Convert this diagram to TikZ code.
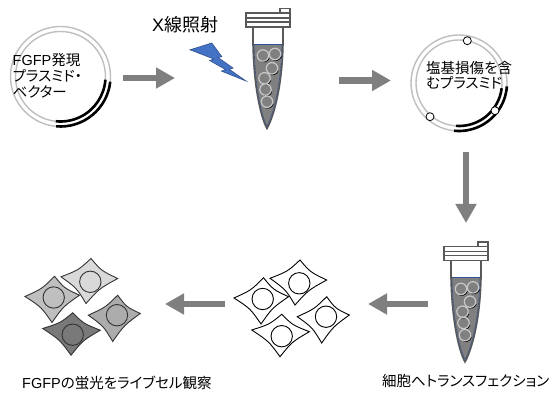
\documentclass[tikz,border=0pt]{standalone}
\usepackage{fontspec}
\setmainfont{Noto Sans CJK JP}[RawFeature={+palt}]
\newfontfamily\lat{Liberation Sans}
\usetikzlibrary{arrows.meta,calc}

\definecolor{arrowgray}{HTML}{7F7F7F}
\definecolor{ringgray}{HTML}{BFBFBF}
\definecolor{tubegray}{HTML}{595959}
\definecolor{liquid}{HTML}{808080}
\definecolor{liquidedge}{HTML}{2F5597}
\definecolor{boltfill}{HTML}{4472C4}
\definecolor{boltedge}{HTML}{2F528F}
\definecolor{beadring}{HTML}{C8C8C8}

\tikzset{
  flowarrow/.style={draw=arrowgray, line width=6.5pt, -{Triangle[length=19pt,width=20pt]}},
  ring/.style={draw=ringgray, line width=1.4pt},
  strand/.style={draw=black, line width=2.6pt},
  lesion/.style={draw=black, fill=white, line width=0.8pt},
  tubeline/.style={draw=tubegray, line width=1.6pt},
  cellline/.style={draw=black, line width=0.9pt},
  txt/.style={inner sep=0pt, font=\fontsize{14.5}{16}\selectfont},
}

% concave cell outline through the four tips (left, top, right, bottom)
\newcommand\cellquad[6]{%
  \path (#2) coordinate (qL) (#3) coordinate (qT) (#4) coordinate (qR) (#5) coordinate (qB);
  \coordinate (qC) at ($0.25*(qL)+0.25*(qT)+0.25*(qR)+0.25*(qB)$);
  \filldraw[cellline, draw=#6, fill=#1] (qL)
    .. controls ($0.4*(qL)+0.4*(qT)+0.2*(qC)$) .. (qT)
    .. controls ($0.4*(qT)+0.4*(qR)+0.2*(qC)$) .. (qR)
    .. controls ($0.4*(qR)+0.4*(qB)+0.2*(qC)$) .. (qB)
    .. controls ($0.4*(qB)+0.4*(qL)+0.2*(qC)$) .. (qL) -- cycle;
}

% four adherent cells, each with its nucleus
\newcommand\cellgroup[5]{%
  \cellquad{#1}{234,298}{263.5,277.7}{288.5,296.7}{261,324}{#5}
  \draw[cellline, draw=#5] (262.7,299) circle[radius=10.7];
  \cellquad{#2}{270,278.3}{300,260}{326.7,280}{295,305}{#5}
  \draw[cellline, draw=#5] (299.3,283.3) circle[radius=10.7];
  \cellquad{#4}{297.3,316.7}{326.7,296.7}{349.3,315}{321.7,343}{#5}
  \draw[cellline, draw=#5] (326,316.7) circle[radius=10.7];
  \cellquad{#3}{251.7,330}{281.7,314.3}{309.3,331.7}{280,356.7}{#5}
  \draw[cellline, draw=#5] (281.7,336.2) circle[radius=10.7];
}

% microcentrifuge tube with plasmid beads in solution
\newcommand\tubedraw{%
  \draw[tubeline, fill=white] (280,8.5) rectangle (290,13);
  \draw[tubeline, fill=white] (253,27) -- (253,44)
     .. controls (254,92) and (262,120) .. (267,128.5)
     .. controls (272,120) and (282,92) .. (283,44) -- (283,27);
  \fill[liquid]
     (254,44.5) -- (282,44.5)
     .. controls (281,92) and (271.5,118) .. (267,126.5)
     .. controls (262.5,118) and (255,92) .. (254,44.5) -- cycle;
  \draw[liquidedge!55!tubegray, line width=0.7pt]
     (282,44.5) .. controls (281,92) and (271.5,118) .. (267,126.5)
     .. controls (262.5,118) and (255,92) .. (254,44.5);
  \draw[liquidedge, line width=1.1pt] (254,44.5) -- (282,44.5);
  \draw[tubeline, fill=white] (246,13) rectangle (290,27);
  \draw[tubeline] (246,18) -- (290,18) (246,22) -- (290,22);
  \foreach \bx/\by in {263/55.5, 275/54, 272/68.3, 264.5/78.3, 265.5/89.5, 267/101.7}{
    \draw[draw=black, line width=1.3pt] (\bx+0.6,\by+0.6) ++(15:5.7) arc[start angle=15, end angle=110, radius=5.7];
    \draw[draw=beadring, line width=1.2pt] (\bx,\by) circle[radius=5.7];
  }
}

\begin{document}
\begin{tikzpicture}[x=1pt, y=-1pt]
\useasboundingbox[fill=white] (0,0) rectangle (549,398);

% --- expression plasmid ---
\coordinate (p1) at (60.5,76.5);
\draw[ring] (p1) circle[radius=50];
\draw[ring] (p1) circle[radius=45];
\draw[strand] (p1) ++(6:50) arc[start angle=6, end angle=95, radius=50];
\draw[strand] (p1) ++(4:45) arc[start angle=4, end angle=96, radius=45];
\node[txt, anchor=north west, align=left, font=\fontsize{14.5}{16}\selectfont] (p1txt) at (12.5,53)
  {{\lat FGFP}発現\\プラスミド・\\ベクター};

% --- irradiation ---
\node[txt, anchor=base west, font=\fontsize{18}{20}\selectfont] (xray) at (152,31.5) {{\lat X}線照射};
\filldraw[fill=boltfill, draw=boltedge, line width=0.6pt, line join=miter]
  (211.8,43) -- (221.9,56.7) -- (218,57.4) -- (233.1,68.1) -- (229.2,69.2)
  -- (246,81) -- (221.4,71.1) -- (225.6,69.6) -- (209.6,60.5) -- (213.8,59)
  -- (190,49.8) -- cycle;
\begin{scope}
  \tubedraw
\end{scope}

% --- damaged plasmid ---
\coordinate (p2) at (459,83);
\draw[ring] (p2) circle[radius=48];
\draw[ring] (p2) circle[radius=43];
\draw[strand] (p2) ++(4:48) arc[start angle=4, end angle=96, radius=48];
\draw[strand] (p2) ++(7:43) arc[start angle=7, end angle=94, radius=43];
\draw[lesion] (467.3,40.7) circle[radius=4];
\draw[lesion] (430,116.7) circle[radius=4];
\draw[lesion] (495,110.7) circle[radius=4];
\node[txt, anchor=north west, align=left, font=\fontsize{14.5}{15}\selectfont] (p2txt) at (426,61.5)
  {塩基損傷を含\\むプラスミド};

% --- transfection ---
\begin{scope}[shift={(198,233.4)}]
  \tubedraw
\end{scope}
\node[txt, anchor=base west] (tftxt) at (382,386) {細胞へトランスフェクション};

% --- cells ---
\cellgroup{white}{white}{white}{white}{black}
\begin{scope}[shift={(-209,-1.5)}]
  \cellgroup{gray!50}{gray!30}{gray!95!black}{gray!65}{black!80}
\end{scope}
\node[txt, anchor=base west] (obstxt) at (22,388) {{\lat FGFP}の蛍光をライブセル観察};

% --- process arrows ---
\coordinate (a1s) at (123,78);   \coordinate (a1e) at (175,78);
\coordinate (a2s) at (339,80.5); \coordinate (a2e) at (391,80.5);
\coordinate (a3s) at (466,152);  \coordinate (a3e) at (466,223);
\coordinate (a4s) at (428,304);  \coordinate (a4e) at (368,304);
\coordinate (a5s) at (225,304);  \coordinate (a5e) at (165,304);
\draw[flowarrow] (a1s) -- (a1e);
\draw[flowarrow] (a2s) -- (a2e);
\draw[flowarrow] (a3s) -- (a3e);
\draw[flowarrow] (a4s) -- (a4e);
\draw[flowarrow] (a5s) -- (a5e);
\end{tikzpicture}
\end{document}
